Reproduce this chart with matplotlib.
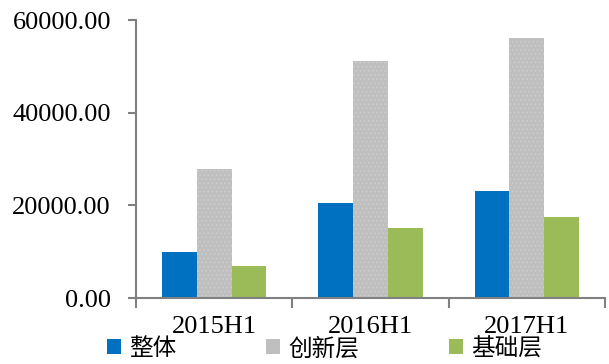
import matplotlib
matplotlib.use("Agg")
import matplotlib.pyplot as plt
import numpy as np
from matplotlib.patches import Patch

categories = ["2015H1", "2016H1", "2017H1"]
series_names = ["整体", "创新层", "基础层"]
overall = [10000, 20500, 23100]
innovation = [27900, 51200, 56200]
basic = [6900, 15100, 17500]
colors = ["#0070C0", "#BFBFBF", "#9BBB59"]
yticks = [0, 20000, 40000, 60000]

plt.rcParams["font.family"] = ["Liberation Serif", "Noto Sans CJK SC", "DejaVu Sans"]
plt.rcParams["hatch.color"] = "#CFCFCF"
plt.rcParams["hatch.linewidth"] = 0.6

fig = plt.figure(figsize=(6.09, 3.64), dpi=100)
ax = fig.add_axes([0.2233, 0.1813, 0.7701, 0.7637])

x = np.arange(len(categories))
w = 0.222
handles = []
for i, (vals, c, name) in enumerate(zip([overall, innovation, basic], colors, series_names)):
    bars = ax.bar(x + (i - 1) * w, vals, width=w, color=c, linewidth=0,
                  zorder=2, label=name)
    if i == 1:
        for b in bars:
            b.set_hatch("....")
    handles.append(Patch(facecolor=c, edgecolor="none", label=name))

ax.set_xlim(-0.5, len(categories) - 0.5)
ax.set_ylim(0, 60000)
ax.set_yticks(yticks)
ax.set_yticklabels([f"{v:.2f}" for v in yticks], fontsize=19)
ax.set_xticks(x)
ax.set_xticklabels(categories, fontsize=19)
ax.set_xticks(np.arange(len(categories) + 1) - 0.5, minor=True)

for s in ["top", "right"]:
    ax.spines[s].set_visible(False)
for s in ["left", "bottom"]:
    ax.spines[s].set_color("#808080")
    ax.spines[s].set_linewidth(1.5)

ax.tick_params(axis="y", direction="out", length=6, width=1.5, color="#808080", pad=12)
ax.tick_params(axis="x", which="major", length=0, pad=13)
ax.tick_params(axis="x", which="minor", direction="out", length=7, width=1.5, color="#808080")

fig.legend(handles=handles, loc="center", bbox_to_anchor=(0.533, 0.042), ncol=3,
           frameon=False, handlelength=0.6, handleheight=0.6,
           handletextpad=0.35, columnspacing=3.8, borderpad=0,
           prop={"family": ["Noto Sans CJK SC"], "size": 17})

fig.savefig("out.png", dpi=100)
